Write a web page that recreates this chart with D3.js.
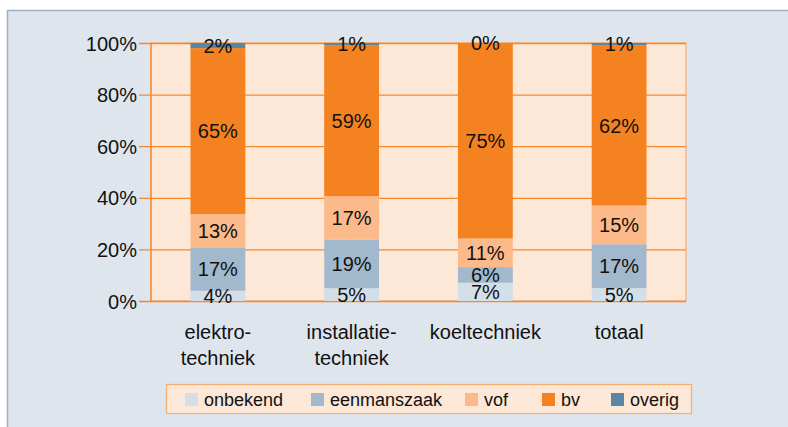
<!DOCTYPE html>
<html>
<head>
<meta charset="utf-8">
<script src="https://cdn.jsdelivr.net/npm/d3@7"></script>
<style>
  body { margin: 0; background: #fff; }
  svg { display: block; font-family: "Liberation Sans", Arial, Helvetica, sans-serif; }
</style>
</head>
<body>
<script>
// categories (x-axis), two lines each
const categories = ["elektrotechniek", "installatietechniek", "koeltechniek", "totaal"];
const categoryLines = [["elektro-", "techniek"], ["installatie-", "techniek"], ["koeltechniek"], ["totaal"]];

// series, bottom to top
const seriesNames = ["onbekend", "eenmanszaak", "vof", "bv", "overig"];
const onbekend    = [4, 5, 7, 5];
const eenmanszaak = [17, 19, 6, 17];
const vof         = [13, 17, 11, 15];
const bv          = [65, 59, 75, 62];
const overig      = [2, 1, 0, 1];

const yTicks = [0, 0.2, 0.4, 0.6, 0.8, 1];

const colors = ["#d2dee8", "#a2b8cc", "#fcb98a", "#f58220", "#5b86a3"];

const width = 788, height = 427;
const plot = {left: 151, right: 686, top: 43, bottom: 301};

const seriesValues = [onbekend, eenmanszaak, vof, bv, overig];
const rows = categories.map(function (c, i) {
    const row = {cat: c};
    seriesNames.forEach(function (s, j) { row[s] = seriesValues[j][i]; });
    return row;
});

const stacked = d3.stack()
    .keys(seriesNames)
    .offset(d3.stackOffsetExpand)(rows);

const svg = d3.select("body").append("svg")
    .attr("width", width)
    .attr("height", height);

// panel
svg.append("rect")
    .attr("x", 7.5).attr("y", 10.5)
    .attr("width", width).attr("height", height)
    .attr("fill", "#dee5ed")
    .attr("stroke", "#9db2c6")
    .attr("stroke-width", 1.5);

const x = d3.scaleBand()
    .domain(categories)
    .range([plot.left, plot.right])
    .paddingInner(0.59)
    .paddingOuter(0.295);

const y = d3.scaleLinear()
    .domain([0, 1])
    .range([plot.bottom, plot.top]);

// plot background
svg.append("rect")
    .attr("x", plot.left).attr("y", plot.top)
    .attr("width", plot.right - plot.left)
    .attr("height", plot.bottom - plot.top)
    .attr("fill", "#fde7d6")
    .attr("stroke", "#f8ac6e")
    .attr("stroke-width", 1.2);

// gridlines + y labels
const yAxis = d3.axisLeft(y)
    .tickValues(yTicks)
    .tickFormat(d3.format(".0%"))
    .tickSize(-(plot.right - plot.left) - 12)
    .tickPadding(4);

const gy = svg.append("g")
    .attr("transform", "translate(" + plot.right + ",0)")
    .call(yAxis);
gy.select(".domain").remove();
gy.selectAll(".tick line")
    .attr("x1", plot.left - plot.right - 12)
    .attr("x2", 0)
    .attr("stroke", "#f5882c")
    .attr("stroke-width", 1.3);
gy.selectAll(".tick text")
    .attr("x", plot.left - plot.right - 14)
    .attr("font-size", 20)
    .attr("fill", "#111")
    .attr("text-anchor", "end")
    .attr("dy", "0.35em");

// left axis line
svg.append("line")
    .attr("x1", plot.left).attr("x2", plot.left)
    .attr("y1", plot.top).attr("y2", plot.bottom)
    .attr("stroke", "#f5882c")
    .attr("stroke-width", 1.3);

// bars
const layers = svg.append("g").selectAll("g")
    .data(stacked)
    .enter().append("g")
    .attr("fill", function (d, i) { return colors[i]; });

layers.selectAll("rect")
    .data(function (d) { return d; })
    .enter().append("rect")
    .attr("x", function (d) { return x(d.data.cat); })
    .attr("y", function (d) { return y(d[1]); })
    .attr("width", x.bandwidth())
    .attr("height", function (d) { return y(d[0]) - y(d[1]); });

// bar labels
stacked.forEach(function (layer) {
    svg.append("g").selectAll("text")
        .data(layer)
        .enter().append("text")
        .attr("x", function (d) { return x(d.data.cat) + x.bandwidth() / 2; })
        .attr("y", function (d) { return y((d[0] + d[1]) / 2); })
        .attr("dy", "0.35em")
        .attr("text-anchor", "middle")
        .attr("font-size", 20)
        .attr("fill", "#111")
        .text(function (d) { return d.data[layer.key] + "%"; });
});

// x labels
categories.forEach(function (c, i) {
    const t = svg.append("text")
        .attr("x", x(c) + x.bandwidth() / 2)
        .attr("y", 339)
        .attr("text-anchor", "middle")
        .attr("font-size", 20)
        .attr("fill", "#111");
    categoryLines[i].forEach(function (line, k) {
        t.append("tspan")
            .attr("x", x(c) + x.bandwidth() / 2)
            .attr("dy", k === 0 ? 0 : 26)
            .text(line);
    });
});

// legend
svg.append("rect")
    .attr("x", 166.5).attr("y", 384.5)
    .attr("width", 525).attr("height", 29)
    .attr("fill", "#fde7d6")
    .attr("stroke", "#f6ad70")
    .attr("stroke-width", 1.2);

const legendX = [185, 311, 465, 542, 611];
const legend = svg.append("g").selectAll("g")
    .data(seriesNames)
    .enter().append("g")
    .attr("transform", function (d, i) { return "translate(" + legendX[i] + ",393)"; });
legend.append("rect")
    .attr("width", 13).attr("height", 13)
    .attr("fill", function (d, i) { return colors[i]; });
legend.append("text")
    .attr("x", 19).attr("y", 12.5)
    .attr("font-size", 18)
    .attr("fill", "#111")
    .text(function (d) { return d; });
</script>
</body>
</html>
